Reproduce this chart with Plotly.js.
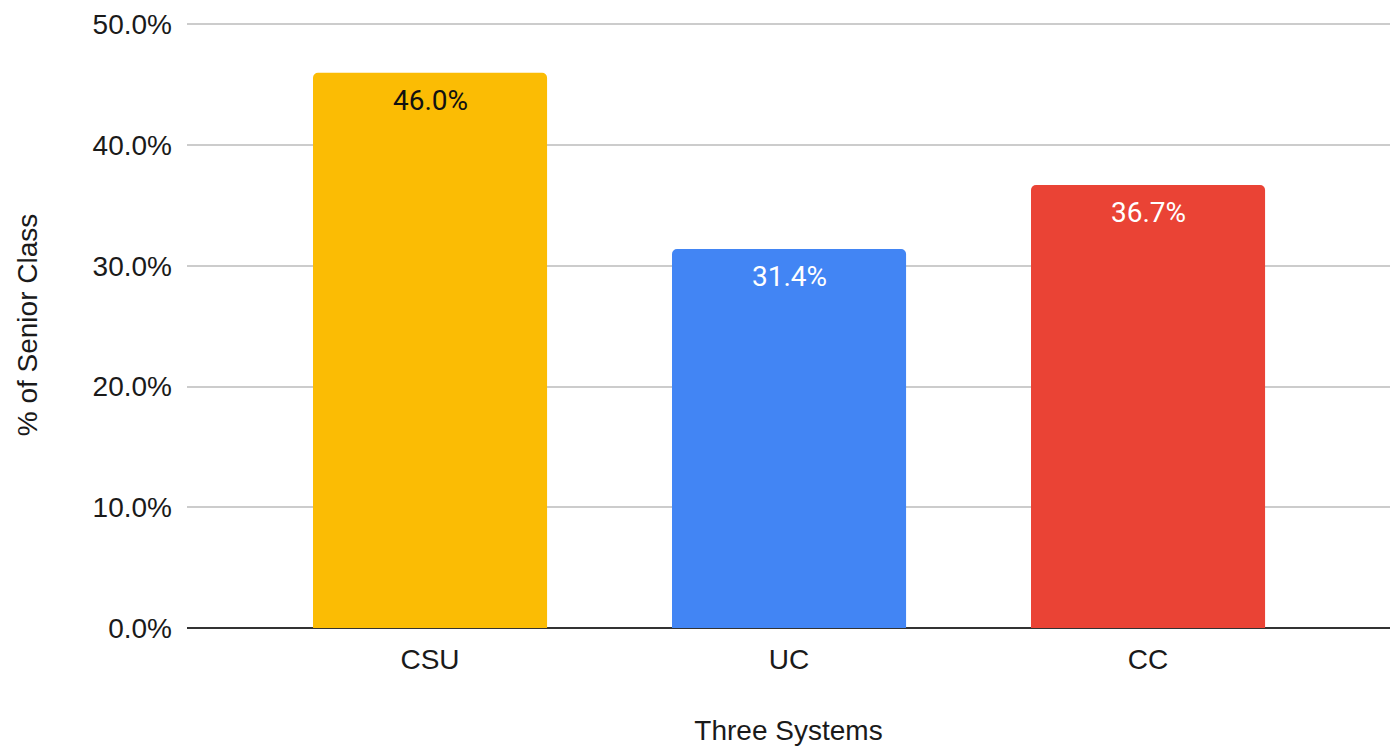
<!DOCTYPE html>
<html>
<head>
<meta charset="utf-8">
<script src="https://cdn.plot.ly/plotly-3.0.1.min.js"></script>
<style>html,body{margin:0;padding:0;background:#fff;}#chart{width:1393px;height:749px;}</style>
</head>
<body>
<div id="chart"></div>
<script>
const categories = ["CSU", "UC", "CC"];
const values = [0.46, 0.314, 0.367];
const labels = ["46.0%", "31.4%", "36.7%"];
const barColors = ["#FBBC04", "#4285F4", "#EA4335"];
const labelColors = ["#111111", "#ffffff", "#ffffff"];
const yTickVals = [0, 0.1, 0.2, 0.3, 0.4, 0.5];
const yTickText = ["0.0%", "10.0%", "20.0%", "30.0%", "40.0%", "50.0%"];

const trace = {
  type: "bar",
  x: categories,
  y: values,
  marker: {color: barColors, cornerradius: 5, line: {width: 0}},
  width: 0.652,
  hoverinfo: "none"
};

const annotations = categories.map((c, i) => ({
  x: c,
  y: values[i],
  xref: "x",
  yref: "y",
  text: labels[i],
  showarrow: false,
  yanchor: "top",
  xanchor: "center",
  yshift: -9,
  font: {family: "Roboto, Arial, sans-serif", size: 28, color: labelColors[i]}
}));

const layout = {
  width: 1393,
  height: 749,
  margin: {l: 187, r: 3, t: 22, b: 121},
  paper_bgcolor: "#ffffff",
  plot_bgcolor: "#ffffff",
  showlegend: false,
  annotations: annotations,
  font: {family: "Liberation Sans, Arial, sans-serif", size: 28, color: "#1a1a1a"},
  xaxis: {
    type: "category",
    range: [-0.677, 2.674],
    showgrid: false,
    zeroline: false,
    showline: false,
    ticks: "",
    ticklabelstandoff: 12,
    tickfont: {size: 28, color: "#1a1a1a"},
    title: {text: "Three Systems", font: {size: 28, color: "#1a1a1a"}, standoff: 46}
  },
  yaxis: {
    range: [0, 0.502],
    tickvals: yTickVals,
    ticktext: yTickText,
    showgrid: true,
    gridcolor: "#cccccc",
    gridwidth: 2,
    zeroline: true,
    zerolinecolor: "#333333",
    zerolinewidth: 2,
    showline: false,
    ticks: "",
    ticklabelstandoff: 14,
    tickfont: {size: 28, color: "#1a1a1a"},
    title: {text: "% of Senior Class", font: {size: 28, color: "#1a1a1a"}, standoff: 46}
  }
};

Plotly.newPlot("chart", [trace], layout, {displayModeBar: false, staticPlot: true});
</script>
</body>
</html>
